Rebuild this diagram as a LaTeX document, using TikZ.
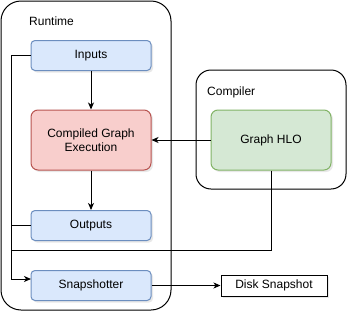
\documentclass[tikz,border=0pt]{standalone}
\usepackage{fontspec}
\setmainfont{Liberation Sans}
\usetikzlibrary{arrows.meta,shadows}
\definecolor{bluefill}{HTML}{DAE8FC}
\definecolor{bluedraw}{HTML}{6C8EBF}
\definecolor{redfill}{HTML}{F8CECC}
\definecolor{reddraw}{HTML}{B85450}
\definecolor{greenfill}{HTML}{D5E8D4}
\definecolor{greendraw}{HTML}{82B366}
\tikzset{
  container/.style={draw=black, line width=1pt, rounded corners=#1, fill=white},
  sh/.style={drop shadow={shadow xshift=2pt, shadow yshift=-2pt, opacity=0.18, fill=gray}},
  bluebox/.style={draw=bluedraw, fill=bluefill, line width=1pt, rounded corners=4pt, minimum width=120pt, minimum height=30pt, inner sep=0pt, font=\fontsize{12}{14}\selectfont, sh},
  redbox/.style={draw=reddraw, fill=redfill, line width=1pt, rounded corners=7pt, minimum width=120pt, minimum height=60pt, inner sep=0pt, align=center, font=\fontsize{12}{14}\selectfont, sh},
  greenbox/.style={draw=greendraw, fill=greenfill, line width=1pt, rounded corners=7pt, minimum width=120pt, minimum height=60pt, inner sep=0pt, font=\fontsize{12}{14}\selectfont, sh},
  plainbox/.style={draw=black, fill=white, line width=1pt, minimum width=106pt, minimum height=21pt, inner sep=0pt, font=\fontsize{12}{14}\selectfont, sh},
  lbl/.style={font=\fontsize{12}{14}\selectfont, inner sep=0pt},
  conn/.style={line width=1pt, draw=black},
  arr/.style={conn, -{Stealth[length=7pt,width=6pt,inset=2pt]}}
}
\begin{document}
\begin{tikzpicture}[x=1pt,y=-1pt]
\useasboundingbox (0,0) rectangle (357,322);
% containers
\draw[container=20pt] (1,1) rectangle (171,310);
\draw[container=15pt] (196,70) rectangle (346,189);
\node[lbl, anchor=west] (rtl) at (29,21) {Runtime};
\node[lbl, anchor=west] (cpl) at (207,92) {Compiler};
% nodes
\node[bluebox] (inputs) at (91,55.5) {Inputs};
\node[redbox] (cge) at (91,140) {Compiled Graph\\Execution};
\node[bluebox] (outputs) at (91,225.5) {Outputs};
\node[bluebox] (snap) at (91,285.5) {Snapshotter};
\node[greenbox] (hlo) at (271,140) {Graph HLO};
\node[plainbox] (disk) at (274,285.5) {Disk Snapshot};
\coordinate (snapin) at (31,279);
% connectors
\draw[arr] (inputs) -- (cge);
\draw[arr] (cge) -- (outputs);
\draw[arr] (hlo) -- (cge);
\draw[arr] (snap) -- (disk);
\draw[arr] (inputs.west) -- (11,55.5) -- (11,279) -- (snapin);
\draw[conn] (outputs.west) -- (11,225.5);
\draw[conn] (hlo.south) -- (271,250) -- (11,250);
\end{tikzpicture}
\end{document}
